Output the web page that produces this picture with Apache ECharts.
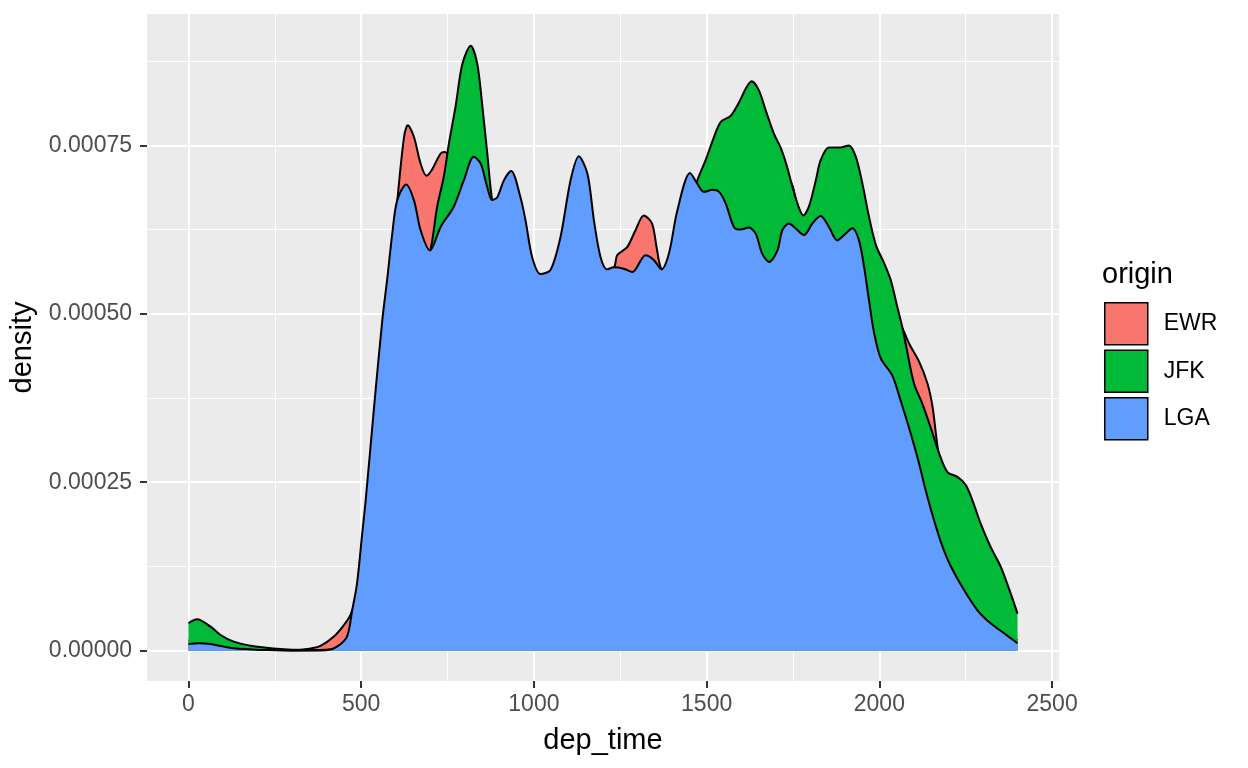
<!DOCTYPE html>
<html>
<head>
<meta charset="utf-8">
<title>dep_time density by origin</title>
<script src="https://cdn.jsdelivr.net/npm/echarts@6/dist/echarts.min.js"></script>
<style>
html,body{margin:0;padding:0;background:#fff;}
#chart{width:1248px;height:768px;}
</style>
</head>
<body>
<div id="chart"></div>
<script>
// density values below are in units of 1e-5
var UNIT = 1e-5;
var origins = ["EWR", "JFK", "LGA"];
var colors = ["#F8766D", "#00BA38", "#619CFF"];

var xTicks = [0, 500, 1000, 1500, 2000, 2500];
var xMinor = [250, 750, 1250, 1750, 2250];
var yTicks = [0, 0.00025, 0.0005, 0.00075];
var yMinor = [0.000125, 0.000375, 0.000625, 0.000875];

var ewrT = [0, 50, 100, 150, 200, 250, 300, 350, 382, 421, 450, 469, 490, 520, 560, 590, 605, 624, 635, 653, 672, 689, 704, 730, 742,
	760, 790, 820, 850, 880, 900, 930, 960, 1000, 1050, 1100, 1150, 1200, 1232, 1241, 1270, 1294, 1318, 1342, 1355, 1369,
	1400, 1450, 1500, 1550, 1600, 1650, 1700, 1740, 1760, 1775, 1800, 1850, 1900, 1950, 2000, 2040, 2061, 2086, 2115, 2139,
	2154, 2166, 2175, 2200, 2250, 2300, 2350, 2400];
var ewrD = [1.5, 1.4, 1.0, 0.6, 0.3, 0.1, 0.1, 0.3, 0.7, 2.1, 3.8, 5.3, 9, 22, 45, 58, 67, 76.2, 78.0, 76.2, 72.3, 70.5, 71.3, 73.8, 74.0,
	73, 70, 68, 66, 64, 63, 64, 60, 54, 53, 58, 60, 56, 56.9, 58.7, 59.9, 62.4, 64.6, 63.4, 59.9, 56.6,
	55, 60, 64, 66, 67, 68, 69, 69.6, 66.6, 64.0, 63, 66, 66, 62, 55, 50, 48.5, 45.6, 42.9, 39.7,
	36.2, 31.2, 28, 22, 14, 8, 4, 1.5];

var jfkT = [0, 25, 64, 93, 131, 180, 213, 276, 320, 380, 430, 460, 490, 520, 560, 600, 640, 680, 700, 720, 739, 754, 773, 793,
	817, 836, 850, 865, 879, 900, 930, 960, 1000, 1050, 1100, 1150, 1200, 1250, 1300, 1350, 1400, 1440, 1473, 1497, 1521, 1541,
	1570, 1594, 1613, 1630, 1651, 1671, 1695, 1714, 1733, 1757, 1780, 1796, 1816, 1830, 1854, 1888, 1912, 1932, 1951, 1970,
	1990, 2014, 2033, 2052, 2066, 2076, 2100, 2124, 2148, 2173, 2197, 2226, 2250, 2269, 2293, 2322, 2351, 2380, 2400];
var jfkD = [4.07, 4.65, 3.56, 2.33, 1.34, 0.74, 0.5, 0.2, 0.1, 0.1, 0.4, 1.8, 8, 22, 45, 55, 57, 57, 59.3, 65.9, 70.3, 75.3, 80.7, 87.1,
	89.8, 87.1, 81.2, 73.8, 66.9, 62, 60, 58, 54, 52, 55, 58, 55, 54, 55, 55, 58, 64, 69.8, 72.8, 76.2, 78.5,
	79.4, 81.4, 83.4, 84.5, 83.2, 80.2, 76.7, 74.7, 71.8, 67.3, 64.6, 65.9, 69.8, 72.8, 74.7, 74.7, 75.0, 73.3, 69.3, 64.4,
	60.2, 57.5, 55.0, 51.0, 48.1, 45.6, 39.7, 36.7, 33.2, 29.3, 26.5, 25.8, 24.6, 22.4, 18.9, 15.4, 12.5, 8.5, 5.5];

var lgaT = [0, 30, 64, 93, 131, 180, 220, 300, 400, 430, 459, 474, 488, 503, 513, 537, 561, 575, 590, 604, 630, 653, 672, 699,
	730, 768, 797, 826, 846, 865, 879, 894, 913, 934, 961, 976, 995, 1019, 1048, 1077, 1106, 1130, 1155, 1174, 1193, 1212,
	1231, 1260, 1285, 1323, 1347, 1369, 1391, 1415, 1452, 1473, 1492, 1517, 1536, 1555, 1579, 1598, 1622, 1642, 1661, 1681,
	1705, 1719, 1738, 1757, 1782, 1806, 1830, 1854, 1878, 1898, 1922, 1941, 1956, 1970, 1985, 2004, 2037, 2061, 2091, 2115,
	2134, 2158, 2183, 2207, 2245, 2284, 2322, 2361, 2400];
var lgaD = [1.0, 1.1, 1.0, 0.7, 0.35, 0.2, 0.1, 0.0, 0.05, 0.6, 2.1, 6.0, 10.0, 17.4, 22.3, 36, 49.0, 55.0, 61.9, 66.8, 69.2, 66.8, 62.4, 59.4,
	62.9, 65.9, 69.8, 73.3, 72.3, 68.8, 66.9, 67.3, 69.8, 71.2, 67.3, 63.8, 58.4, 55.9, 56.5, 61.4, 69.8, 73.4, 70.8, 63.8, 58.4, 56.6,
	56.9, 56.7, 56.2, 58.7, 58.0, 56.6, 59.0, 65.3, 70.9, 69.3, 68.1, 68.4, 68.1, 66.4, 62.9, 62.5, 62.8, 61.9, 58.9, 57.7,
	59.4, 62.4, 63.4, 62.7, 61.7, 63.4, 64.5, 62.9, 60.9, 61.7, 62.7, 60.9, 56.9, 52.0, 47.1, 43.4, 40.9, 37.2, 32.2, 27.8,
	23.8, 19.4, 15.4, 12.5, 9.0, 6.0, 4.06, 2.58, 1.1];

var FONT = "Liberation Sans, Arial, sans-serif";

function pairs(t, d){
	var out = [];
	for(var i=0;i<t.length;i++){
		out.push([t[i], d[i]*UNIT]);
	}
	return out;
}

// 密度面积图，后画的盖住先画的
function density_chart(dom){
	var mychart = echarts.init(dom, null, {renderer:"canvas"});
	var data = [pairs(ewrT, ewrD), pairs(jfkT, jfkD), pairs(lgaT, lgaD)];
	var series = [];
	for(var i=0;i<origins.length;i++){
		series.push({
			name: origins[i],
			type: "line",
			data: data[i],
			xAxisIndex: 0,
			yAxisIndex: 0,
			z: 2 + i,
			showSymbol: false,
			smooth: 0.3,
			animation: false,
			itemStyle: {color: colors[i]},
			lineStyle: {color: "#000", width: 2},
			areaStyle: {color: colors[i], opacity: 1}
		});
	}
	var option = {
		backgroundColor: "#fff",
		animation: false,
		title: {
			text: "origin",
			left: 1102,
			top: 260,
			padding: 0,
			textStyle: {color: "#000", fontSize: 29, fontWeight: "normal", fontFamily: FONT}
		},
		legend: {
			data: origins,
			orient: "vertical",
			left: 1104,
			top: 302,
			padding: 0,
			itemWidth: 43,
			itemHeight: 42,
			itemGap: 4,
			icon: "rect",
			selectedMode: false,
			itemStyle: {borderColor: "#000", borderWidth: 1.5},
			textStyle: {color: "#000", fontSize: 23, fontFamily: FONT, padding: [0, 0, 0, 11]}
		},
		grid: {
			left: 147,
			top: 14,
			width: 912,
			height: 667,
			show: true,
			backgroundColor: "#EBEBEB",
			borderWidth: 0
		},
		xAxis: [{
			type: "value",
			min: -120,
			max: 2520,
			name: "dep_time",
			nameLocation: "middle",
			nameGap: 45,
			nameTextStyle: {color: "#000", fontSize: 29, fontFamily: FONT},
			axisLine: {show: false, onZero: false},
			axisTick: {show: true, length: 7, customValues: xTicks, lineStyle: {color: "#333", width: 2}},
			axisLabel: {
				customValues: xTicks,
				margin: 12,
				color: "#4D4D4D",
				fontSize: 23,
				fontFamily: FONT,
				formatter: function(v){ return String(v); }
			},
			splitLine: {show: true, lineStyle: {color: "#fff", width: 2}}
		}, {
			type: "value",
			min: -120,
			max: 2520,
			axisLine: {show: false, onZero: false},
			axisTick: {show: false, customValues: xMinor},
			axisLabel: {show: false, customValues: xMinor},
			splitLine: {show: true, lineStyle: {color: "#fff", width: 1}}
		}],
		yAxis: [{
			type: "value",
			min: -0.000045,
			max: 0.000945,
			name: "density",
			nameLocation: "middle",
			nameGap: 99,
			nameTextStyle: {color: "#000", fontSize: 29, fontFamily: FONT},
			axisLine: {show: false, onZero: false},
			axisTick: {show: true, length: 7, customValues: yTicks, lineStyle: {color: "#333", width: 2}},
			axisLabel: {
				customValues: yTicks,
				margin: 15,
				color: "#4D4D4D",
				fontSize: 23,
				fontFamily: FONT,
				formatter: function(v){ return v.toFixed(5); }
			},
			splitLine: {show: true, lineStyle: {color: "#fff", width: 2}}
		}, {
			type: "value",
			min: -0.000045,
			max: 0.000945,
			position: "left",
			axisLine: {show: false, onZero: false},
			axisTick: {show: false, customValues: yMinor},
			axisLabel: {show: false, customValues: yMinor},
			splitLine: {show: true, lineStyle: {color: "#fff", width: 1}}
		}],
		series: series
	};
	mychart.setOption(option);
	return mychart;
}

density_chart(document.getElementById("chart"));
</script>
</body>
</html>
